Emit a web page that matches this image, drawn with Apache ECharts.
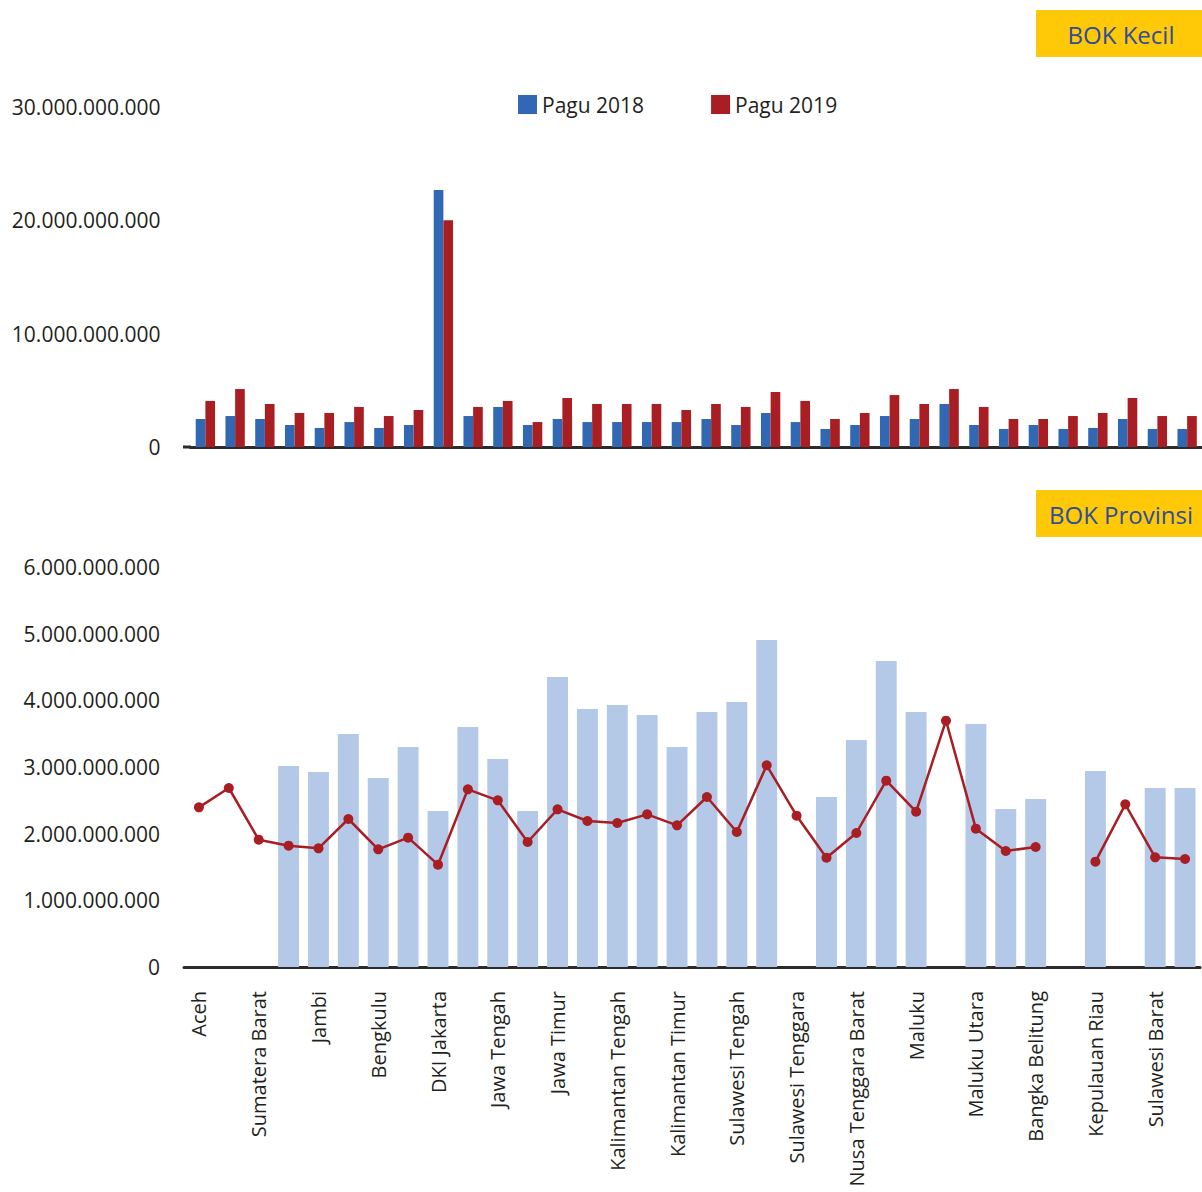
<!DOCTYPE html>
<html>
<head>
<meta charset="utf-8">
<script src="https://cdn.jsdelivr.net/npm/echarts@6/dist/echarts.min.js"></script>
<style>
html,body{margin:0;padding:0;background:#fff;}
#chart{width:1202px;height:1192px;}
</style>
</head>
<body>
<div id="chart"></div>
<script>
// Categories (34 provinces)
const provinces = ["Aceh","Sumatera Utara","Sumatera Barat","Riau","Jambi","Sumatera Selatan","Bengkulu","Lampung","DKI Jakarta","Jawa Barat","Jawa Tengah","DI Yogyakarta","Jawa Timur","Kalimantan Barat","Kalimantan Tengah","Kalimantan Selatan","Kalimantan Timur","Sulawesi Utara","Sulawesi Tengah","Sulawesi Selatan","Sulawesi Tenggara","Bali","Nusa Tenggara Barat","Nusa Tenggara Timur","Maluku","Papua","Maluku Utara","Banten","Bangka Belitung","Gorontalo","Kepulauan Riau","Papua Barat","Sulawesi Barat","Kalimantan Utara"];

// BOK Kecil
const kecilPagu2018 = [2470000000,2730000000,2470000000,1940000000,1680000000,2200000000,1680000000,1940000000,22660000000,2730000000,3530000000,1940000000,2470000000,2200000000,2200000000,2200000000,2200000000,2470000000,1940000000,3000000000,2200000000,1590000000,1940000000,2730000000,2470000000,3790000000,1940000000,1590000000,1940000000,1590000000,1680000000,2470000000,1590000000,1590000000];
const kecilPagu2019 = [4060000000,5110000000,3790000000,3000000000,3000000000,3530000000,2730000000,3260000000,20000000000,3530000000,4060000000,2200000000,4320000000,3790000000,3790000000,3790000000,3260000000,3790000000,3530000000,4850000000,4060000000,2470000000,3000000000,4580000000,3790000000,5110000000,3530000000,2470000000,2470000000,2730000000,3000000000,4320000000,2730000000,2730000000];

// BOK Provinsi
const provinsiBar = [null,null,null,3015000000,2925000000,3495000000,2835000000,3300000000,2340000000,3600000000,3120000000,2340000000,4350000000,3870000000,3930000000,3780000000,3300000000,3825000000,3975000000,4905000000,null,2550000000,3405000000,4590000000,3825000000,null,3645000000,2370000000,2520000000,null,2940000000,null,2685000000,2685000000];
const provinsiLine = [2395000000,2685000000,1910000000,1820000000,1780000000,2220000000,1765000000,1940000000,1535000000,2665000000,2500000000,1875000000,2365000000,2190000000,2160000000,2290000000,2125000000,2550000000,2025000000,3025000000,2270000000,1640000000,2010000000,2795000000,2330000000,3695000000,2075000000,1740000000,1800000000,null,1580000000,2440000000,1645000000,1620000000];

// Tick labels
const kecilTicks = {min:0, max:30000000000, interval:10000000000};
const provTicks = {min:0, max:6000000000, interval:1000000000};

const FONT = '"Open Sans", "Noto Sans", sans-serif';
const TXT = '#231f20';
const fmt = v => String(Math.round(v)).replace(/\B(?=(\d{3})+(?!\d))/g, '.');

const chart = echarts.init(document.getElementById('chart'), null, {renderer:'svg'});
const axisLine = {show:true, onZero:false, lineStyle:{color:'#2b2b2b', width:3}};

chart.setOption({
  animation:false,
  backgroundColor:'#fff',
  textStyle:{fontFamily:FONT},
  legend:{
    left:513, top:89, itemWidth:19, itemHeight:19, itemGap:67, icon:'rect',
    textStyle:{fontSize:21, color:TXT, fontFamily:FONT},
    data:['Pagu 2018','Pagu 2019']
  },
  grid:[
    {left:190.5, top:106.7, width:1014.6, height:340.3},
    {left:184, top:567, width:1016, height:400}
  ],
  xAxis:[
    {gridIndex:0, type:'category', data:provinces, axisLine:axisLine, axisTick:{show:false}, axisLabel:{show:false}},
    {gridIndex:1, type:'category', data:provinces, axisLine:axisLine, axisTick:{show:false},
     axisLabel:{interval:1, rotate:90, margin:24, fontSize:20, color:TXT, fontFamily:FONT}}
  ],
  yAxis:[
    {gridIndex:0, type:'value', min:kecilTicks.min, max:kecilTicks.max, interval:kecilTicks.interval,
     axisLine:{show:false}, axisTick:{show:false}, splitLine:{show:false},
     axisLabel:{margin:30, fontSize:21, color:TXT, fontFamily:FONT, formatter:fmt}},
    {gridIndex:1, type:'value', min:provTicks.min, max:provTicks.max, interval:provTicks.interval,
     axisLine:{show:false}, axisTick:{show:false}, splitLine:{show:false},
     axisLabel:{margin:24, fontSize:21, color:TXT, fontFamily:FONT, formatter:fmt}}
  ],
  series:[
    {name:'Pagu 2018', type:'bar', xAxisIndex:0, yAxisIndex:0, data:kecilPagu2018, barGap:'0%', barCategoryGap:'35%', itemStyle:{color:'#3068b3'}},
    {name:'Pagu 2019', type:'bar', xAxisIndex:0, yAxisIndex:0, data:kecilPagu2019, barGap:'0%', barCategoryGap:'35%', itemStyle:{color:'#a81e23'}},
    {name:'BOK Provinsi 2018', type:'bar', xAxisIndex:1, yAxisIndex:1, data:provinsiBar, barCategoryGap:'30%', itemStyle:{color:'#b4c9e8'}},
    {name:'BOK Provinsi 2019', type:'line', xAxisIndex:1, yAxisIndex:1, data:provinsiLine, connectNulls:false,
     symbol:'circle', symbolSize:10, lineStyle:{color:'#a81e23', width:2.5}, itemStyle:{color:'#a81e23'}}
  ],
  graphic:[
    {type:'line', shape:{x1:183, y1:447, x2:191, y2:447}, style:{stroke:'#2b2b2b', lineWidth:3}},
    {type:'rect', shape:{x:1036, y:10, width:166, height:47}, style:{fill:'#ffc907'}},
    {type:'text', x:1121, y:34, style:{text:'BOK Kecil', fill:'#2e4d9c', font:'24px "Open Sans", sans-serif', textAlign:'center', textVerticalAlign:'middle'}},
    {type:'rect', shape:{x:1036, y:490, width:166, height:47}, style:{fill:'#ffc907'}},
    {type:'text', x:1121, y:514, style:{text:'BOK Provinsi', fill:'#2e4d9c', font:'24px "Open Sans", sans-serif', textAlign:'center', textVerticalAlign:'middle'}}
  ]
});
</script>
</body>
</html>
